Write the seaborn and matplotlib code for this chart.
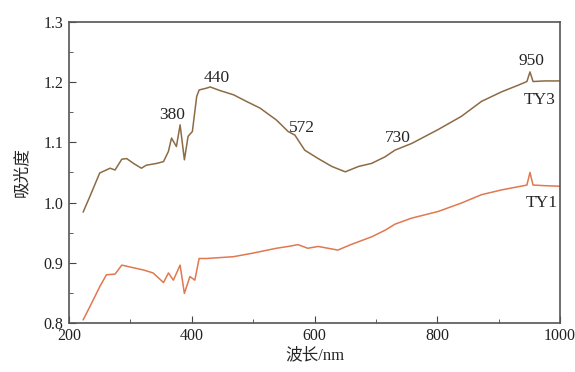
import numpy as np
import pandas as pd
import matplotlib
matplotlib.use('Agg')
import matplotlib.pyplot as plt
import seaborn as sns
from matplotlib.ticker import MultipleLocator

sns.set_style('ticks')
plt.rcParams['font.family'] = ['Liberation Serif', 'Noto Sans CJK SC']
plt.rcParams['xtick.direction'] = 'in'
plt.rcParams['ytick.direction'] = 'in'

## TY3 spectrum
ty3_wl = [223, 234, 250, 267, 275, 286, 294, 305, 318, 326, 343, 354, 362, 367, 375, 381,
          388, 394, 401, 408, 412, 424, 430, 446, 468, 489, 511, 538, 557, 568, 584, 606,
          628, 650, 672, 693, 715, 731, 758, 801, 839, 872, 905, 932, 946, 951, 956, 975, 1000]
ty3_abs = [0.984, 1.010, 1.049, 1.057, 1.054, 1.072, 1.073, 1.065, 1.057, 1.062, 1.065, 1.068,
           1.085, 1.107, 1.093, 1.129, 1.071, 1.110, 1.118, 1.176, 1.187, 1.190, 1.192, 1.186,
           1.179, 1.168, 1.157, 1.137, 1.118, 1.112, 1.087, 1.073, 1.060, 1.051, 1.060, 1.065,
           1.076, 1.087, 1.098, 1.121, 1.143, 1.168, 1.184, 1.195, 1.201, 1.217, 1.201, 1.202, 1.202]

## TY1 spectrum
ty1_wl = [223, 234, 250, 261, 275, 286, 299, 321, 337, 354, 362, 370, 381, 388, 397, 405,
          412, 424, 468, 500, 538, 557, 573, 589, 606, 638, 659, 693, 715, 731, 758, 801,
          839, 872, 905, 946, 951, 956, 975, 1000]
ty1_abs = [0.805, 0.827, 0.860, 0.880, 0.881, 0.896, 0.893, 0.888, 0.883, 0.867, 0.883, 0.871,
           0.896, 0.849, 0.877, 0.871, 0.907, 0.907, 0.910, 0.916, 0.924, 0.927, 0.930, 0.924,
           0.927, 0.921, 0.930, 0.943, 0.954, 0.964, 0.974, 0.985, 0.999, 1.013, 1.021, 1.029,
           1.050, 1.029, 1.028, 1.027]

peak_labels = ['380', '440', '572', '730', '950']
peak_x = [368, 441, 580, 736, 954]
peak_y = [1.146, 1.207, 1.124, 1.107, 1.235]

df = pd.concat([
    pd.DataFrame({'wl': ty3_wl, 'abs': ty3_abs, 'sample': 'TY3'}),
    pd.DataFrame({'wl': ty1_wl, 'abs': ty1_abs, 'sample': 'TY1'}),
])

fig = plt.figure(figsize=(5.75, 3.72), dpi=100)
ax = fig.add_axes([0.12, 0.132, 0.854, 0.809])
sns.lineplot(data=df, x='wl', y='abs', hue='sample', palette={'TY3': '#8c6b45', 'TY1': '#e07850'},
             linewidth=1.1, legend=False, ax=ax, sort=False)

fs = 12.5
for lab, x, y in zip(peak_labels, peak_x, peak_y):
    ax.text(x, y, lab, ha='center', va='center', fontsize=fs)
ax.text(967, 1.170, 'TY3', ha='center', va='center', fontsize=fs)
ax.text(970, 1.000, 'TY1', ha='center', va='center', fontsize=fs)

ax.set_xlim(200, 1000)
ax.set_ylim(0.8, 1.3)
ax.xaxis.set_major_locator(MultipleLocator(200))
ax.xaxis.set_minor_locator(MultipleLocator(100))
ax.yaxis.set_major_locator(MultipleLocator(0.1))
ax.yaxis.set_minor_locator(MultipleLocator(0.05))
ax.yaxis.set_major_formatter(matplotlib.ticker.FormatStrFormatter('%.1f'))
ax.tick_params(which='both', labelsize=11.5, color='#444444', labelcolor='#222222')
ax.tick_params(which='major', length=5, pad=4)
ax.tick_params(which='minor', length=3)
for s in ax.spines.values():
    s.set_color('#555555')
    s.set_linewidth(1.2)
ax.set_xlabel('波长/nm', fontsize=12, labelpad=2)
ax.set_ylabel('吸光度', fontsize=12, labelpad=10)

fig.savefig('out.png', dpi=100)
